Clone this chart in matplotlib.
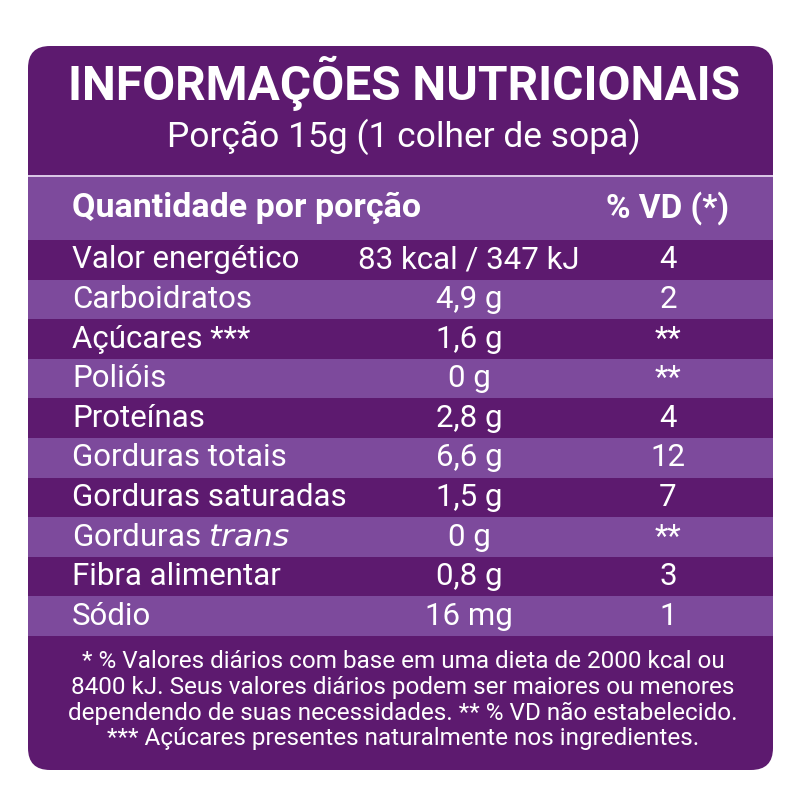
import matplotlib
matplotlib.use("Agg")
import matplotlib.pyplot as plt
from matplotlib.patches import FancyBboxPatch, Rectangle

title = "INFORMAÇÕES NUTRICIONAIS"
subtitle = "Porção 15g (1 colher de sopa)"
header = ["Quantidade por porção", "% VD (*)"]
nutrients = ["Valor energético", "Carboidratos", "Açúcares ***", "Polióis", "Proteínas",
             "Gorduras totais", "Gorduras saturadas", "Gorduras $\\it{trans}$", "Fibra alimentar", "Sódio"]
amounts = ["83 kcal / 347 kJ", "4,9 g", "1,6 g", "0 g", "2,8 g", "6,6 g", "1,5 g", "0 g", "0,8 g", "16 mg"]
vd = ["4", "2", "**", "**", "4", "12", "7", "**", "3", "1"]
footnote = ["* % Valores diários com base em uma dieta de 2000 kcal ou",
            "8400 kJ. Seus valores diários podem ser maiores ou menores",
            "dependendo de suas necessidades. ** % VD não estabelecido.",
            "*** Açúcares presentes naturalmente nos ingredientes."]

DARK = "#5d1a6f"
LIGHT = "#7d4a9c"
FONT = "Roboto"

fig = plt.figure(figsize=(8, 8), dpi=100)
ax = fig.add_axes([0, 0, 1, 1])
ax.set_xlim(0, 800); ax.set_ylim(800, 0); ax.axis("off")

ax.add_patch(FancyBboxPatch((28, 46), 745, 724, boxstyle="round,pad=0,rounding_size=22",
                            fc=DARK, ec="none"))
ax.add_patch(Rectangle((28, 175), 745, 2, fc="#d9c6e6", ec="none"))
ax.add_patch(Rectangle((28, 177), 745, 63, fc=LIGHT, ec="none"))
row_h = 39.6
for i in range(len(nutrients)):
    y0 = 240 + i * row_h
    ax.add_patch(Rectangle((28, y0), 745, row_h, fc=DARK if i % 2 == 0 else LIGHT, ec="none"))

ax.text(404, 83, title, ha="center", va="center", color="white", fontsize=34.5,
        fontweight="bold", family=FONT)
ax.text(404, 137, subtitle, ha="center", va="center", color="white", fontsize=25.5, family=FONT)
ax.text(72, 208, header[0], ha="left", va="center", color="white", fontsize=24.5,
        fontweight="bold", family=FONT)
ax.text(668, 208, header[1], ha="center", va="center", color="white", fontsize=24,
        fontweight="bold", family=FONT)
for i in range(len(nutrients)):
    yc = 240 + (i + 0.5) * row_h
    ax.text(72, yc, nutrients[i], ha="left", va="center", color="white", fontsize=22.5, family=FONT)
    ax.text(469, yc, amounts[i], ha="center", va="center", color="white", fontsize=22.5, family=FONT)
    ax.text(668, yc, vd[i], ha="center", va="center", color="white", fontsize=22.5, family=FONT)
for j, line in enumerate(footnote):
    ax.text(403, 662 + j * 25.5, line, ha="center", va="center", color="white", fontsize=17.5, family=FONT)

fig.savefig("out.png", dpi=100, facecolor="white")
